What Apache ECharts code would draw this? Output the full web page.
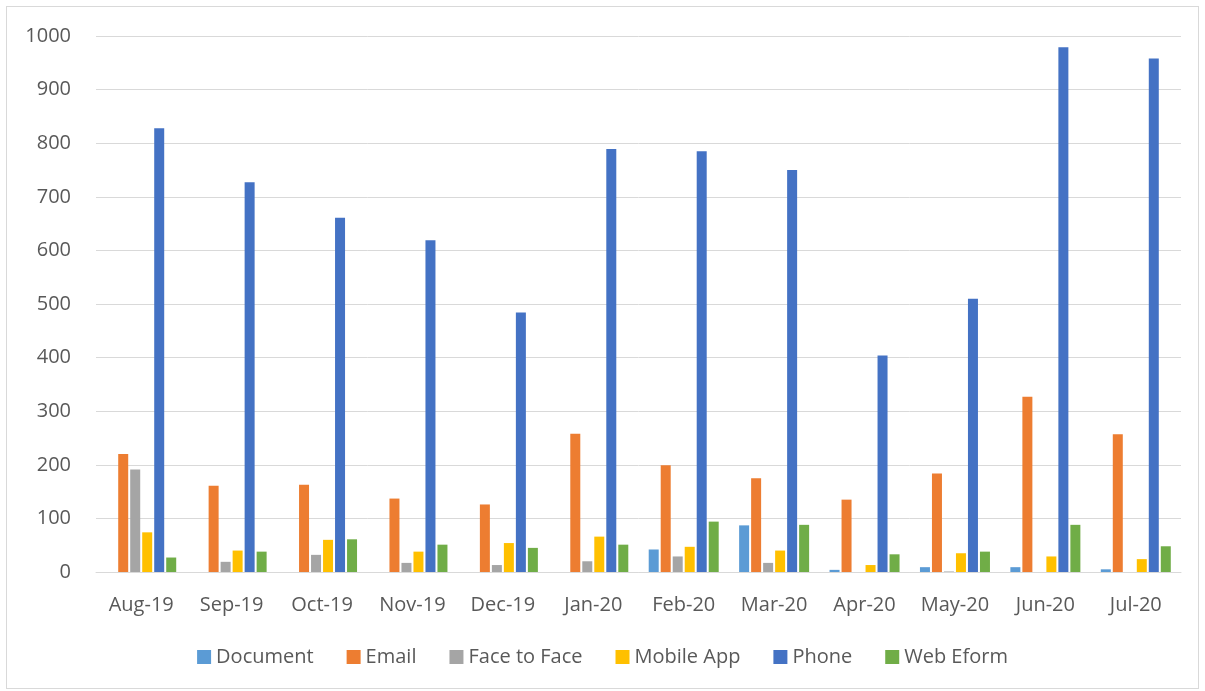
<!DOCTYPE html>
<html>
<head>
<meta charset="utf-8">
<script src="https://cdn.jsdelivr.net/npm/echarts@6/dist/echarts.min.js"></script>
<style>
  html, body { margin: 0; padding: 0; background: #fff; }
  #chart {
    position: absolute; left: 6px; top: 6px;
    width: 1193px; height: 683px;
    border: 1px solid #d9d9d9; box-sizing: border-box;
  }
</style>
</head>
<body>
<div id="chart"></div>
<script>
// months on the x axis
const months = ['Aug-19', 'Sep-19', 'Oct-19', 'Nov-19', 'Dec-19', 'Jan-20',
                'Feb-20', 'Mar-20', 'Apr-20', 'May-20', 'Jun-20', 'Jul-20'];

// counts per channel
const documentVals = [0, 0, 0, 0, 0, 0, 42, 87, 4, 9, 9, 5];
const emailVals    = [220, 161, 163, 137, 126, 258, 199, 175, 135, 184, 327, 257];
const faceVals     = [191, 19, 32, 17, 13, 20, 29, 17, 0, 1, 0, 0];
const mobileVals   = [74, 40, 60, 38, 54, 66, 47, 40, 13, 35, 29, 24];
const phoneVals    = [828, 727, 661, 619, 484, 789, 785, 750, 404, 510, 979, 958];
const webVals      = [27, 38, 61, 51, 45, 51, 94, 88, 33, 38, 88, 48];

const yTicks = [0, 100, 200, 300, 400, 500, 600, 700, 800, 900, 1000];

const chart = echarts.init(document.getElementById('chart'));
const font = 'Open Sans, Liberation Sans, sans-serif';

function bar(name, data, color) {
  return {
    name: name,
    type: 'bar',
    data: data,
    barWidth: 10,
    barGap: '20%',
    itemStyle: { color: color },
  };
}

chart.setOption({
  animation: false,
  grid: { left: 89, right: 17, top: 29, bottom: 116 },
  legend: {
    bottom: 16,
    left: 'center',
    itemWidth: 14,
    itemHeight: 14,
    itemGap: 33,
    icon: 'rect',
    textStyle: { color: '#595959', fontSize: 20, fontFamily: font },
  },
  xAxis: {
    type: 'category',
    data: months,
    axisLine: { lineStyle: { color: '#d9d9d9', width: 1 } },
    axisTick: { show: false },
    axisLabel: { color: '#595959', fontSize: 20, fontFamily: font, margin: 23 },
  },
  yAxis: {
    type: 'value',
    min: yTicks[0],
    max: yTicks[yTicks.length - 1],
    interval: 100,
    axisLine: { show: false },
    axisTick: { show: false },
    axisLabel: {
      color: '#595959', fontSize: 20, fontFamily: font, margin: 25,
      formatter: (v) => String(v),
    },
    splitLine: { lineStyle: { color: '#d9d9d9', width: 1 } },
  },
  series: [
    bar('Document', documentVals, '#5B9BD5'),
    bar('Email', emailVals, '#ED7D31'),
    bar('Face to Face', faceVals, '#A5A5A5'),
    bar('Mobile App', mobileVals, '#FFC000'),
    bar('Phone', phoneVals, '#4472C4'),
    bar('Web Eform', webVals, '#70AD47'),
  ],
});
</script>
</body>
</html>
